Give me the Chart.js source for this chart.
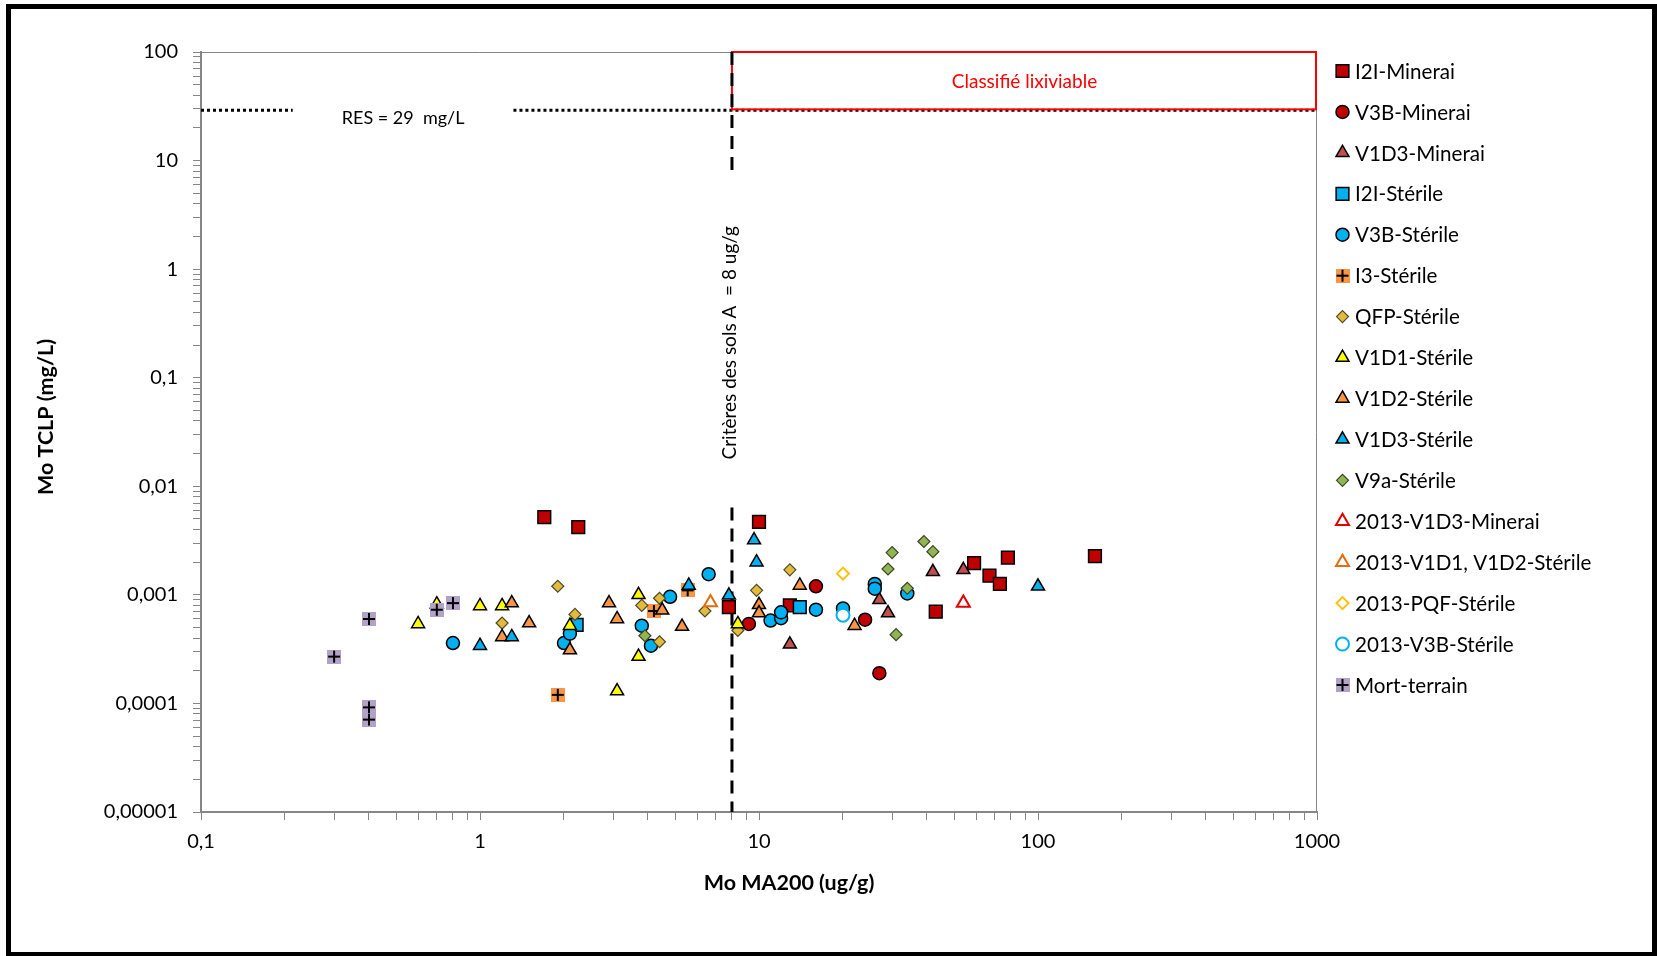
<!DOCTYPE html>
<html lang="fr">
<head>
<meta charset="utf-8">
<title>Mo TCLP vs Mo MA200</title>
<script src="https://cdn.jsdelivr.net/npm/chart.js@4.4.1/dist/chart.umd.min.js"></script>
<style>
    html, body { margin: 0; padding: 0; background: #fff; }
    #moChart { display: block; }
</style>
</head>
<body>
<canvas id="moChart" width="1657" height="956"></canvas>
<script>
// Mo MA200 (ug/g), Mo TCLP (mg/L) pairs for each lithology
const i2iMinerai = [[1.7, 0.0052], [2.25, 0.0042], [10, 0.0047], [7.8, 0.00077], [12.9, 0.0008], [43, 0.0007], [59, 0.00196], [67, 0.0015], [73, 0.00126], [78, 0.0022], [160, 0.00227]];
const v3bMinerai = [[9.2, 0.00054], [16, 0.0012], [24, 0.00059], [27, 0.00019]];
const v1d3Minerai = [[12.9, 0.00035], [27, 0.0009], [29, 0.00068], [42, 0.00163], [54, 0.0017]];
const i2iSterile = [[2.22, 0.00053], [14, 0.00077]];
const v3bSterile = [[0.8, 0.00036], [2.0, 0.00036], [2.1, 0.00044], [3.8, 0.00052], [4.1, 0.00034], [4.8, 0.00096], [6.6, 0.00155], [11, 0.00058], [12, 0.00061], [12, 0.00069], [16, 0.00073], [20, 0.00075], [26, 0.00126], [26, 0.00114], [34, 0.00103]];
const i3Sterile = [[1.9, 0.00012], [4.2, 0.00071], [5.55, 0.0011]];
const qfpSterile = [[1.9, 0.0012], [1.2, 0.00055], [2.19, 0.00066], [3.8, 0.0008], [4.4, 0.00093], [4.4, 0.00037], [6.4, 0.00071], [8.4, 0.00047], [9.8, 0.0011], [12.9, 0.0017]];
const v1d1Sterile = [[0.6, 0.00054], [0.7, 0.00082], [1.0, 0.00079], [1.2, 0.00079], [2.1, 0.00052], [3.1, 0.00013], [3.7, 0.001], [3.7, 0.00027], [8.4, 0.00054]];
const v1d2Sterile = [[1.3, 0.00084], [1.2, 0.00041], [1.5, 0.00055], [2.1, 0.00031], [2.9, 0.00084], [3.1, 0.0006], [4.5, 0.00072], [5.3, 0.00051], [10, 0.00081], [10, 0.00068], [14, 0.00122], [22, 0.00052]];
const v1d3Sterile = [[1.0, 0.00034], [1.3, 0.00041], [5.6, 0.00122], [7.8, 0.00099], [9.6, 0.0032], [9.8, 0.002], [100, 0.0012]];
const v9aSterile = [[3.9, 0.00042], [29, 0.00173], [30, 0.00245], [31, 0.00043], [34, 0.00115], [39, 0.0031], [42, 0.0025]];
const v1d3Minerai2013 = [[54, 0.00084]];
const v1d1v2Sterile2013 = [[6.7, 0.00085]];
const pqfSterile2013 = [[20, 0.00157]];
const v3bSterile2013 = [[20, 0.00065]];
const mortTerrain = [[0.3, 0.00027], [0.4, 0.0006], [0.4, 0.000092], [0.4, 0.000071], [0.7, 0.00073], [0.8, 0.00084]];

const seriesNames = ['I2I-Minerai', 'V3B-Minerai', 'V1D3-Minerai', 'I2I-Stérile', 'V3B-Stérile', 'I3-Stérile', 'QFP-Stérile', 'V1D1-Stérile', 'V1D2-Stérile', 'V1D3-Stérile', 'V9a-Stérile', '2013-V1D3-Minerai', '2013-V1D1, V1D2-Stérile', '2013-PQF-Stérile', '2013-V3B-Stérile', 'Mort-terrain'];
const seriesData = [i2iMinerai, v3bMinerai, v1d3Minerai, i2iSterile, v3bSterile, i3Sterile, qfpSterile, v1d1Sterile, v1d2Sterile, v1d3Sterile, v9aSterile, v1d3Minerai2013, v1d1v2Sterile2013, pqfSterile2013, v3bSterile2013, mortTerrain];

// Axis labels (decades only)
const xTickLabels = ['0,1', '1', '10', '100', '1000'];
const yTickLabels = ['0,00001', '0,0001', '0,001', '0,01', '0,1', '1', '10', '100'];

// Regulatory thresholds
const resLevel = 29;       // RES, mg/L
const soilCriterion = 8;   // critères des sols A, ug/g

const FONT = 'Lato, Carlito, Calibri, "Open Sans", sans-serif';
const AXIS_GRAY = '#868686';

// Square marker with a black cross, used for I3 and Mort-terrain
function plusMarker(fill) {
    const c = document.createElement('canvas');
    c.width = 14;
    c.height = 14;
    const g = c.getContext('2d');
    g.fillStyle = fill;
    g.fillRect(0, 0, 14, 14);
    g.fillStyle = '#000';
    g.fillRect(1, 6, 12, 2);
    g.fillRect(6, 1, 2, 12);
    return c;
}

const markerStyles = [
    { pointStyle: 'rect', radius: 9, fill: '#c00000', stroke: '#000', width: 1.5 },
    { pointStyle: 'circle', radius: 6.5, fill: '#c00000', stroke: '#000', width: 1.5 },
    { pointStyle: 'triangle', radius: 7.5, fill: '#c0504d', stroke: '#000', width: 1.5 },
    { pointStyle: 'rect', radius: 9, fill: '#00b0f0', stroke: '#000', width: 1.5 },
    { pointStyle: 'circle', radius: 6.5, fill: '#00b0f0', stroke: '#000', width: 1.5 },
    { pointStyle: plusMarker('#f79646'), radius: 7, fill: '#f79646', stroke: '#000', width: 0 },
    { pointStyle: 'rectRot', radius: 6, fill: '#e2bb3a', stroke: '#4d4a2e', width: 1.2 },
    { pointStyle: 'triangle', radius: 7.5, fill: '#ffff00', stroke: '#000', width: 1.5 },
    { pointStyle: 'triangle', radius: 7.5, fill: '#f79646', stroke: '#000', width: 1.5 },
    { pointStyle: 'triangle', radius: 7.5, fill: '#00b0f0', stroke: '#000', width: 1.5 },
    { pointStyle: 'rectRot', radius: 6, fill: '#92b553', stroke: '#3b4624', width: 1.2 },
    { pointStyle: 'triangle', radius: 7.5, fill: '#ffffff', stroke: '#e00000', width: 2 },
    { pointStyle: 'triangle', radius: 7.5, fill: '#ffffff', stroke: '#e46c0a', width: 2 },
    { pointStyle: 'rectRot', radius: 6, fill: '#ffffff', stroke: '#ffc000', width: 2 },
    { pointStyle: 'circle', radius: 6.5, fill: '#ffffff', stroke: '#00b0f0', width: 2 },
    { pointStyle: plusMarker('#b3a2c7'), radius: 7, fill: '#b3a2c7', stroke: '#000', width: 0 }
];

const datasets = seriesNames.map((name, i) => ({
    label: name,
    data: seriesData[i].map(p => ({ x: p[0], y: p[1] })),
    pointStyle: markerStyles[i].pointStyle,
    pointRadius: markerStyles[i].radius,
    backgroundColor: markerStyles[i].fill,
    borderColor: markerStyles[i].stroke,
    borderWidth: markerStyles[i].width,
    order: -i   // later series drawn on top
}));

// 1, 2, ... 9 ticks within each decade
function decadeTicks(minExp, maxExp) {
    const ticks = [];
    for (let e = minExp; e < maxExp; e++) {
        for (let s = 1; s <= 9; s++) {
            ticks.push({ value: s * Math.pow(10, e), major: s === 1 });
        }
    }
    ticks.push({ value: Math.pow(10, maxExp), major: true });
    return ticks;
}

function decadeLabel(labels, minExp) {
    return function(value) {
        const e = Math.log10(value);
        if (Math.abs(e - Math.round(e)) > 1e-6) return '';
        return labels[Math.round(e) - minExp] || '';
    };
}

// Background, frame, threshold lines and notes
const decorations = {
    id: 'decorations',
    beforeDraw(chart) {
        const ctx = chart.ctx;
        ctx.save();
        ctx.fillStyle = '#fff';
        ctx.fillRect(0, 0, chart.width, chart.height);
        ctx.fillStyle = '#000';
        ctx.fillRect(6, 4, chart.width - 6, 5);
        ctx.fillRect(6, 4, 5, chart.height - 4);
        ctx.fillRect(chart.width - 5, 4, 5, chart.height - 4);
        ctx.fillRect(6, chart.height - 4, chart.width - 6, 4);
        ctx.restore();
    },
    beforeDatasetsDraw(chart) {
        const ctx = chart.ctx;
        const area = chart.chartArea;
        const xs = chart.scales.x;
        const ys = chart.scales.y;
        const critX = xs.getPixelForValue(soilCriterion);
        const resY = ys.getPixelForValue(resLevel);

        ctx.save();
        // thin frame on top and right of the plot
        ctx.strokeStyle = AXIS_GRAY;
        ctx.lineWidth = 1;
        ctx.beginPath();
        ctx.moveTo(area.left, area.top + 0.5);
        ctx.lineTo(area.right - 0.5, area.top + 0.5);
        ctx.lineTo(area.right - 0.5, area.bottom);
        ctx.stroke();

        // RES dotted line, broken around its label
        ctx.font = '18px ' + FONT;
        const resText = 'RES = 29  mg/L';
        const resTextX = xs.getPixelForValue(0.53);
        const resHalfGap = ctx.measureText(resText).width / 2 + 49;
        ctx.strokeStyle = '#000';
        ctx.lineWidth = 3;
        ctx.setLineDash([3, 3]);
        ctx.beginPath();
        ctx.moveTo(area.left, resY);
        ctx.lineTo(resTextX - resHalfGap, resY);
        ctx.moveTo(resTextX + resHalfGap, resY);
        ctx.lineTo(area.right, resY);
        ctx.stroke();
        ctx.setLineDash([]);
        ctx.fillStyle = '#000';
        ctx.textAlign = 'center';
        ctx.textBaseline = 'middle';
        ctx.fillText(resText, resTextX, resY + 8);

        // leachable zone
        ctx.strokeStyle = '#ff0000';
        ctx.lineWidth = 2;
        ctx.strokeRect(critX, area.top, area.right - critX - 1, resY - area.top - 1);
        ctx.fillStyle = '#ff0000';
        ctx.font = '19px ' + FONT;
        ctx.fillText('Classifié lixiviable', (critX + area.right) / 2, (area.top + resY) / 2 + 1);

        // soil criterion dashed line with rotated label
        const critText = 'Critères des sols A  = 8 ug/g';
        const critTextY = ys.getPixelForValue(0.21);
        const critHalfGap = ctx.measureText(critText).width / 2 + 48;
        ctx.strokeStyle = '#000';
        ctx.lineWidth = 3;
        ctx.setLineDash([13, 8]);
        ctx.beginPath();
        ctx.moveTo(critX, area.top);
        ctx.lineTo(critX, critTextY - critHalfGap);
        ctx.moveTo(critX, critTextY + critHalfGap);
        ctx.lineTo(critX, area.bottom);
        ctx.stroke();
        ctx.setLineDash([]);
        ctx.translate(critX - 2, critTextY);
        ctx.rotate(-Math.PI / 2);
        ctx.fillStyle = '#000';
        ctx.fillText(critText, 0, 0);
        ctx.restore();
    },
    afterDraw(chart) {
        const ctx = chart.ctx;
        ctx.save();
        // axis titles
        ctx.fillStyle = '#000';
        ctx.font = 'bold 21.5px ' + FONT;
        ctx.textAlign = 'center';
        ctx.textBaseline = 'middle';
        ctx.fillText('Mo MA200 (ug/g)', 789, 883);
        ctx.translate(46, 417);
        ctx.rotate(-Math.PI / 2);
        ctx.fillText('Mo TCLP (mg/L)', 0, 0);
        ctx.restore();

        // legend
        ctx.save();
        ctx.font = '20.6px ' + FONT;
        ctx.textAlign = 'left';
        ctx.textBaseline = 'middle';
        chart.data.datasets.forEach((ds, i) => {
            const y = 71 + i * 40.93;
            const m = markerStyles[i];
            ctx.fillStyle = m.fill;
            ctx.strokeStyle = m.stroke;
            ctx.lineWidth = m.width;
            Chart.helpers.drawPoint(ctx, { pointStyle: m.pointStyle, radius: m.radius, borderWidth: m.width, rotation: 0 }, 1342.5, y);
            ctx.fillStyle = '#000';
            ctx.fillText(ds.label, 1355, y + 1);
        });
        ctx.restore();
    }
};

const ctx = document.getElementById('moChart').getContext('2d');
new Chart(ctx, {
    type: 'scatter',
    data: { datasets: datasets },
    options: {
        responsive: false,
        animation: false,
        devicePixelRatio: 1,
        layout: { padding: { left: 0, top: 52, right: 340, bottom: 0 } },
        plugins: {
            legend: { display: false },
            tooltip: { enabled: false }
        },
        scales: {
            x: {
                type: 'logarithmic',
                min: 0.1,
                max: 1000,
                afterBuildTicks: scale => { scale.ticks = decadeTicks(-1, 3); },
                afterFit: scale => { scale.height = 144; },
                ticks: {
                    autoSkip: false,
                    maxRotation: 0,
                    padding: 10,
                    color: '#000',
                    font: { family: FONT, size: 20 },
                    callback: decadeLabel(xTickLabels, -1)
                },
                grid: { drawOnChartArea: false, tickLength: 8, color: AXIS_GRAY },
                border: { color: AXIS_GRAY, width: 2 }
            },
            y: {
                type: 'logarithmic',
                min: 0.00001,
                max: 100,
                afterBuildTicks: scale => { scale.ticks = decadeTicks(-5, 2); },
                afterFit: scale => { scale.width = 201; },
                ticks: {
                    autoSkip: false,
                    padding: 15,
                    color: '#000',
                    font: { family: FONT, size: 20 },
                    callback: decadeLabel(yTickLabels, -5)
                },
                grid: { drawOnChartArea: false, tickLength: 8, color: AXIS_GRAY },
                border: { color: AXIS_GRAY, width: 2 }
            }
        }
    },
    plugins: [decorations]
});
</script>
</body>
</html>
